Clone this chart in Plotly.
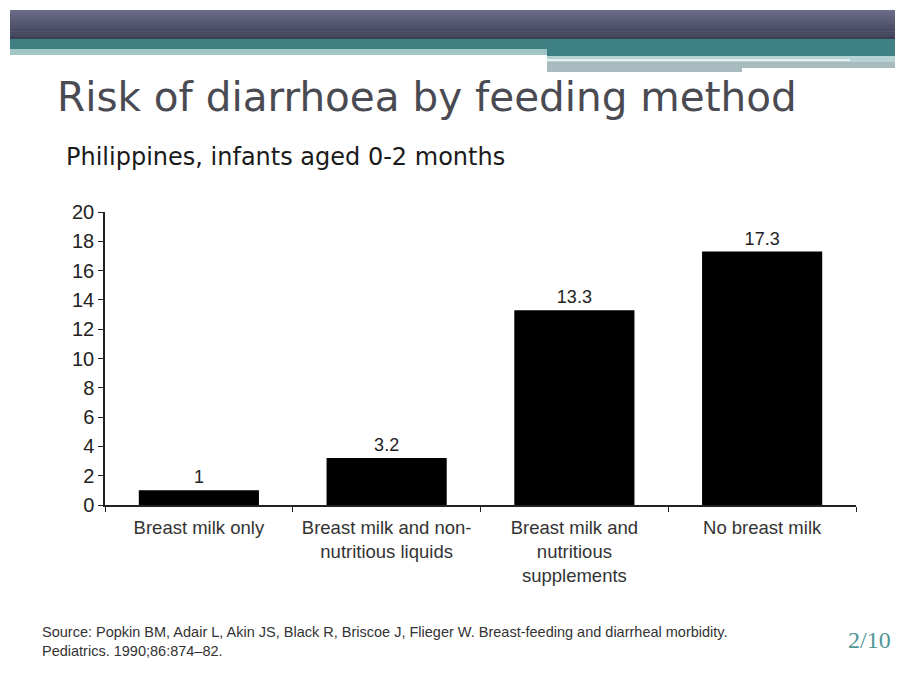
import plotly.graph_objects as go

# ---- data ----
categories = [
    "Breast milk only",
    "Breast milk and non-<br>nutritious liquids",
    "Breast milk and<br>nutritious<br>supplements",
    "No breast milk",
]
risk_values = [1, 3.2, 13.3, 17.3]
value_labels = ["1", "3.2", "13.3", "17.3"]
y_ticks = [0, 2, 4, 6, 8, 10, 12, 14, 16, 18, 20]

W, H = 903, 684
L, R, T, B = 105, 47, 212, 179
PW, PH = W - L - R, H - T - B


def px(x):
    return (x - L) / PW


def py(y):
    return (H - B - y) / PH


fig = go.Figure(
    go.Bar(
        x=categories,
        y=risk_values,
        text=value_labels,
        textposition="outside",
        textfont=dict(family="Liberation Sans, Arial", size=18, color="#222222"),
        marker=dict(color="#000000", line=dict(color="#000000", width=0)),
        cliponaxis=False,
        width=0.64,
    )
)

shapes = []


def rect(x0, y0, x1, y1, color):
    shapes.append(dict(type="rect", xref="paper", yref="paper",
                       x0=px(x0), x1=px(x1), y0=py(y1), y1=py(y0),
                       fillcolor=color, line=dict(width=0), layer="below"))


# dark gradient header band
top = (0x6c, 0x6c, 0x88)
bot = (0x3c, 0x3f, 0x55)
n = 15
for i in range(n):
    t = i / (n - 1)
    c = tuple(int(top[k] + (bot[k] - top[k]) * t) for k in range(3))
    y0 = 10 + i * 29 / n
    rect(10, y0, 895, y0 + 29 / n + 0.6, "rgb(%d,%d,%d)" % c)
# teal bands
rect(10, 39, 547, 49, "#3f7f82")
rect(10, 49, 547, 55, "#9fc6c4")
rect(547, 39, 895, 56, "#3f8084")
rect(547, 56, 895, 62, "#b5d3d3")
rect(547, 59, 850, 61, "#e4f1f1")
rect(547, 62, 895, 68, "#a8bcbf")
rect(547, 68, 742, 72, "#a8bcbf")

annotations = [
    dict(text="Risk of diarrhoea by feeding method", x=px(55), y=py(97),
         xref="paper", yref="paper", xanchor="left", yanchor="middle",
         showarrow=False, font=dict(family="DejaVu Sans", size=40.5, color="#4a4a52")),
    dict(text="Philippines, infants aged 0-2 months", x=px(64), y=py(157),
         xref="paper", yref="paper", xanchor="left", yanchor="middle",
         showarrow=False, font=dict(family="DejaVu Sans", size=24, color="#1a1a1a")),
    dict(text="Source: Popkin BM, Adair L, Akin JS, Black R, Briscoe J, Flieger W. Breast-feeding and diarrheal morbidity.<br>Pediatrics. 1990;86:874–82.",
         x=px(40), y=py(641), xref="paper", yref="paper", xanchor="left", yanchor="middle",
         align="left", showarrow=False,
         font=dict(family="Liberation Sans, Arial", size=14.5, color="#333333")),
    dict(text="2/10", x=px(893), y=py(640), xref="paper", yref="paper",
         xanchor="right", yanchor="middle", showarrow=False,
         font=dict(family="Liberation Serif, Times New Roman", size=24, color="#4f9696")),
]

fig.update_layout(
    width=W, height=H,
    margin=dict(l=L, r=R, t=T, b=B),
    paper_bgcolor="white", plot_bgcolor="white",
    showlegend=False,
    shapes=shapes,
    annotations=annotations,
    xaxis=dict(
        type="category",
        showline=True, linecolor="#222222", linewidth=1.5,
        ticks="outside", tickson="boundaries", ticklen=5, tickcolor="#222222",
        tickfont=dict(family="Liberation Sans, Arial", size=18.5, color="#333333"),
        ticklabelstandoff=5,
        showgrid=False,
    ),
    yaxis=dict(
        range=[0, 20], tickvals=y_ticks,
        showline=True, linecolor="#222222", linewidth=1.5,
        ticks="outside", ticklen=5, tickcolor="#222222",
        tickfont=dict(family="Liberation Sans, Arial", size=20, color="#222222"),
        showgrid=False, zeroline=False,
    ),
)

fig.write_html("out.html")
